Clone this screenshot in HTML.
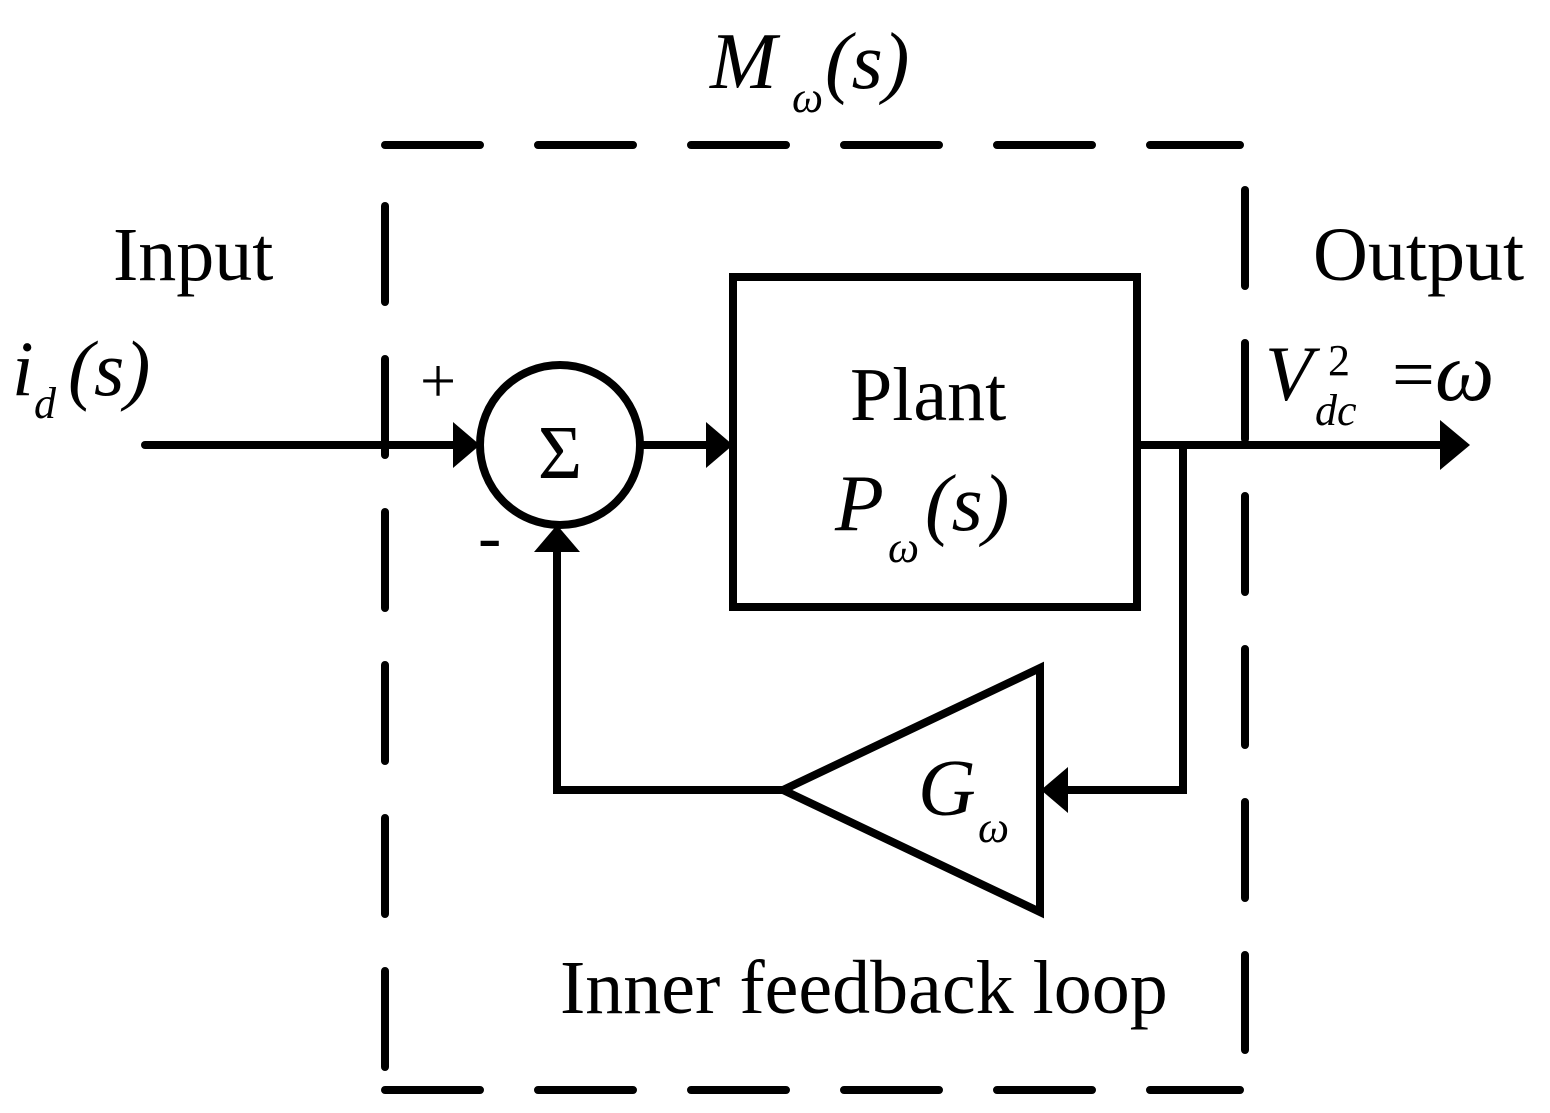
<!DOCTYPE html>
<html><head><meta charset="utf-8"><style>
html,body{margin:0;padding:0;background:#fff;}
svg{display:block;}
text{font-family:"Liberation Serif",serif;fill:#000;}
.i{font-style:italic;}
</style></head><body>
<svg width="1550" height="1113" viewBox="0 0 1550 1113" xmlns="http://www.w3.org/2000/svg">
<g stroke="#000" stroke-width="8" stroke-linecap="round" fill="none">
<line x1="385" y1="145" x2="1240" y2="145" stroke-dasharray="95 58"/>
<line x1="385" y1="1090" x2="1240" y2="1090" stroke-dasharray="95 58"/>
<line x1="385" y1="206" x2="385" y2="1070" stroke-dasharray="96 57"/>
<line x1="1245" y1="190" x2="1245" y2="1050" stroke-dasharray="96 57"/>
<line x1="145" y1="445" x2="460" y2="445"/>
<ellipse cx="560" cy="445" rx="80" ry="80"/>
<line x1="640" y1="445" x2="710" y2="445"/>
<rect x="733" y="277" width="404" height="330"/>
<line x1="1137" y1="445" x2="1445" y2="445"/>
<polyline points="1183,445 1183,790 1065,790"/>
<polygon points="1040,668 1040,912 783,790"/>
<polyline points="783,790 557,790 557,550"/>
</g>
<g fill="#000">
<polygon points="453,422 453,468 480,445"/>
<polygon points="706,422 706,468 733,445"/>
<polygon points="1440,420 1440,470 1470,445"/>
<polygon points="1068,767 1068,813 1041,790"/>
<polygon points="534,552 580,552 557,525"/>
</g>
<text x="710" y="88" font-size="80" class="i">M</text>
<text x="792" y="112" font-size="44" class="i">ω</text>
<text x="825" y="88" font-size="80" class="i">(s)</text>
<text x="113" y="280" font-size="76">Input</text>
<text x="1313" y="280" font-size="76">Output</text>
<text x="12" y="395" font-size="78" class="i">i</text>
<text x="34" y="418" font-size="44" class="i">d</text>
<text x="68" y="395" font-size="78" class="i">(s)</text>
<text x="420" y="402" font-size="64">+</text>
<text x="478" y="560" font-size="70">-</text>
<text x="560" y="478" font-size="76" text-anchor="middle">Σ</text>
<text x="850" y="420" font-size="76">Plant</text>
<text x="835" y="530" font-size="80" class="i">P</text>
<text x="888" y="562" font-size="44" class="i">ω</text>
<text x="925" y="530" font-size="80" class="i">(s)</text>
<text x="918" y="815" font-size="80" class="i">G</text>
<text x="978" y="842" font-size="44" class="i">ω</text>
<text x="1265" y="400" font-size="78" class="i">V</text>
<text x="1328" y="375" font-size="44">2</text>
<text x="1315" y="425" font-size="44" class="i">dc</text>
<text x="1392" y="400" font-size="76">=</text>
<text x="1435" y="400" font-size="84" class="i">ω</text>
<text x="560" y="1013" font-size="76">Inner feedback loop</text>
</svg>
</body></html>
